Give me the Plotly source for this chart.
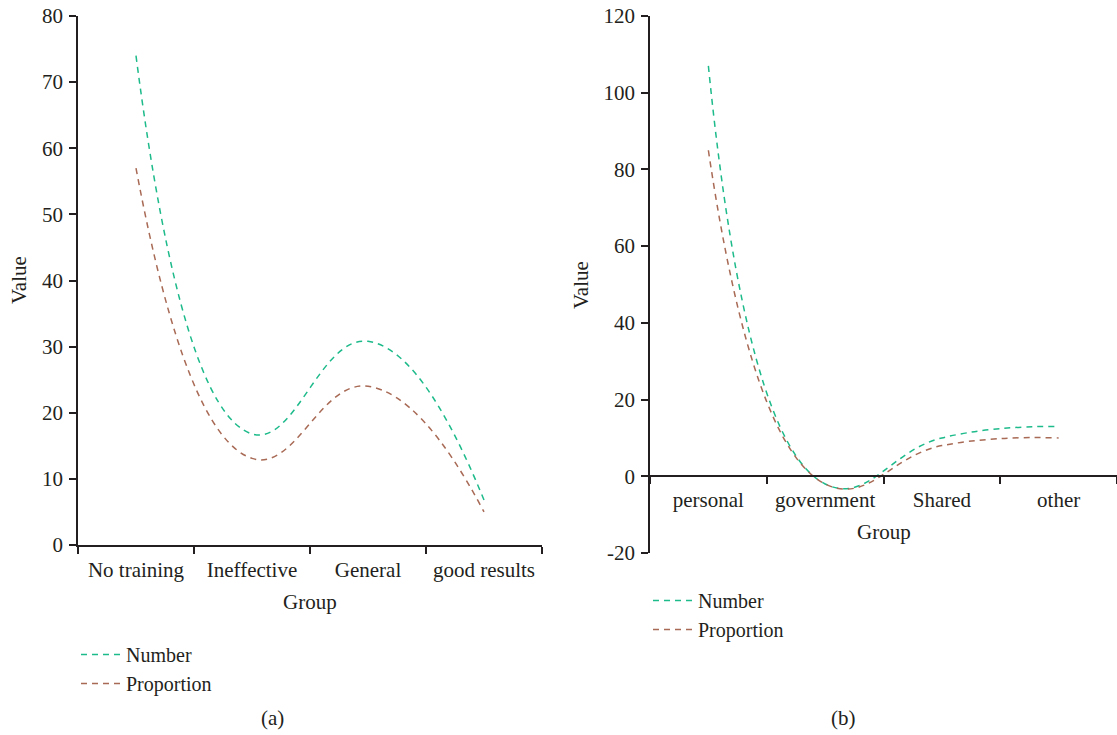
import plotly.graph_objects as go

# ---- data ----
groups_a = ["No training", "Ineffective", "General", "good results"]
number_a = [74, 16.8, 30.8, 6.8]
proportion_a = [57, 13.1, 24, 5]

groups_b = ["personal", "government", "Shared", "other"]
number_b = [107, -2, 10, 13]
proportion_b = [85, -2, 8, 10]

yticks_b = [-20, 0, 20, 40, 60, 80, 100, 120]
yticklabels_b = ["-20", "0", "20", "40", "60", "80", "100", "120"]

series_names = ["Number", "Proportion"]
colors = ["#1dba8a", "#a86a55"]

W, H = 1117, 735
FONT = "Liberation Serif, Times New Roman, serif"
TXT = "#231f20"
FS = 21

def px(x):
    return x / W

def py(y):
    return 1 - y / H

fig = go.Figure()

for name, vals, col in zip(series_names, [number_a, proportion_a], colors):
    fig.add_trace(go.Scatter(x=groups_a, y=vals, mode="lines", name=name,
                             line=dict(color=col, width=1.5, dash="6px,5px", shape="spline", smoothing=1.3),
                             xaxis="x", yaxis="y", legend="legend", showlegend=True))
for name, vals, col in zip(series_names, [number_b, proportion_b], colors):
    fig.add_trace(go.Scatter(x=groups_b, y=vals, mode="lines", name=name,
                             line=dict(color=col, width=1.5, dash="6px,5px", shape="spline", smoothing=1.3),
                             xaxis="x2", yaxis="y2", legend="legend2", showlegend=True))

axis_common = dict(showgrid=False, zeroline=False, showline=True, linecolor=TXT, linewidth=1.5,
                   ticks="outside", ticklen=7, tickcolor=TXT, tickwidth=1.5, automargin=False,
                   tickfont=dict(family=FONT, size=FS, color=TXT))

yb_dom = [py(553), py(16)]
zero_pos = yb_dom[0] + (0 - (-20)) / 140 * (yb_dom[1] - yb_dom[0])

def ann(text, x, y, angle=0):
    return dict(text=text, x=px(x), y=py(y), xref="paper", yref="paper", showarrow=False,
                textangle=angle, font=dict(family=FONT, size=FS, color=TXT),
                xanchor="center", yanchor="middle")

fig.update_layout(
    width=W, height=H,
    margin=dict(l=0, r=0, t=0, b=0),
    paper_bgcolor="white", plot_bgcolor="white",
    font=dict(family=FONT, size=FS, color=TXT),
    xaxis=dict(domain=[px(78), px(542)], anchor="y", tickson="boundaries", ticklabelstandoff=5,
               range=[-0.5, 3.5], **axis_common),
    yaxis=dict(domain=[py(545), py(16)], anchor="x", range=[0, 80], dtick=10, ticklabelstandoff=2,
               **axis_common),
    xaxis2=dict(domain=[px(650), 1.0], anchor="free", position=zero_pos, tickson="boundaries",
                ticklabelstandoff=5, range=[-0.5, 3.5], **axis_common),
    yaxis2=dict(domain=yb_dom, anchor="x2", range=[-20, 120], tickmode="array",
                tickvals=yticks_b, ticktext=yticklabels_b, ticklabelstandoff=2,
                **axis_common),
    legend=dict(x=px(76), y=py(635), xanchor="left", yanchor="top", bgcolor="rgba(0,0,0,0)",
                font=dict(family=FONT, size=20, color=TXT), tracegroupgap=0, itemwidth=40),
    legend2=dict(x=px(648), y=py(581), xanchor="left", yanchor="top", bgcolor="rgba(0,0,0,0)",
                 font=dict(family=FONT, size=20, color=TXT), tracegroupgap=0, itemwidth=40),
    annotations=[
        ann("Group", 310, 602),
        ann("Group", 884, 532),
        ann("Value", 19, 280, -90),
        ann("Value", 581, 285, -90),
        ann("(a)", 272, 718),
        ann("(b)", 843, 718),
    ],
)

fig.write_html("out.html", config={"displayModeBar": False},
               post_script="document.body.style.margin='0';document.body.style.overflow='hidden';")
